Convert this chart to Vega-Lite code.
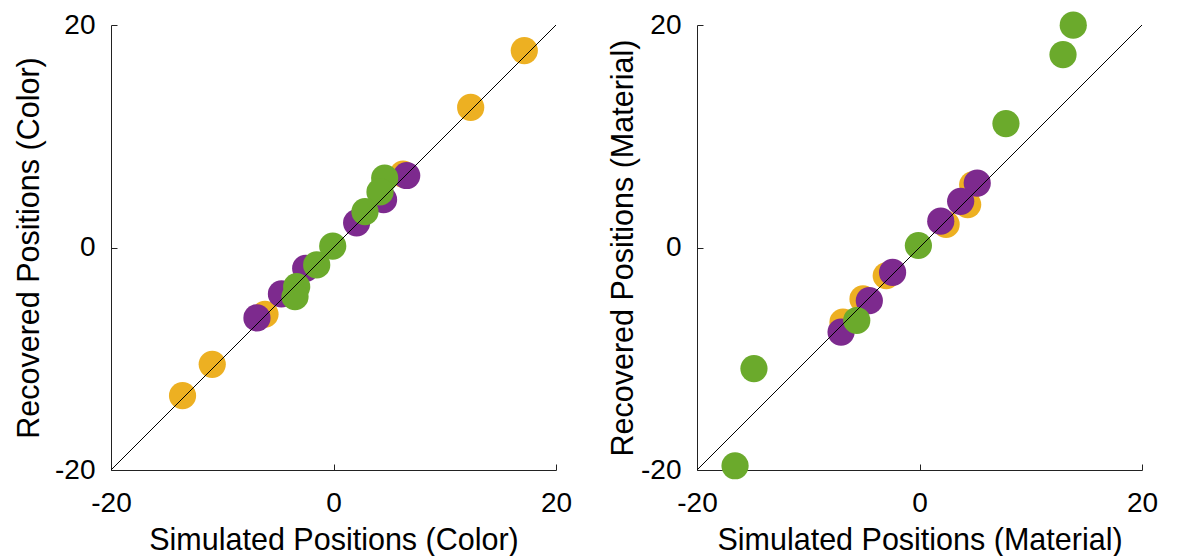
{
  "$schema": "https://vega.github.io/schema/vega-lite/v6.json",
  "autosize": {"type": "pad"},
  "padding": {"left": 14, "top": 11, "right": 5, "bottom": 0},
  "config": {
    "view": {"stroke": null},
    "font": "Liberation Sans",
    "concat": {"spacing": 36}
  },
  "datasets": {
    "color": [
      {"group": "orange", "sim": 17.15, "rec": 17.7},
      {"group": "orange", "sim": 12.33, "rec": 12.59},
      {"group": "orange", "sim": 6.25, "rec": 6.6},
      {"group": "orange", "sim": -6.16, "rec": -6.0},
      {"group": "orange", "sim": -10.9, "rec": -10.5},
      {"group": "orange", "sim": -13.57, "rec": -13.32},
      {"group": "purple", "sim": 6.58, "rec": 6.47},
      {"group": "purple", "sim": 4.5, "rec": 4.3},
      {"group": "purple", "sim": 2.08, "rec": 2.22},
      {"group": "purple", "sim": -2.5, "rec": -1.87},
      {"group": "purple", "sim": -4.68, "rec": -4.17},
      {"group": "purple", "sim": -6.88, "rec": -6.33},
      {"group": "green", "sim": 4.6, "rec": 6.24},
      {"group": "green", "sim": 4.18, "rec": 5.0},
      {"group": "green", "sim": 2.83, "rec": 3.22},
      {"group": "green", "sim": -0.07, "rec": 0.13},
      {"group": "green", "sim": -1.51, "rec": -1.57},
      {"group": "green", "sim": -3.31, "rec": -3.52},
      {"group": "green", "sim": -3.46, "rec": -4.42}
    ],
    "material": [
      {"group": "orange", "sim": 4.78, "rec": 5.64},
      {"group": "orange", "sim": 4.33, "rec": 3.86},
      {"group": "orange", "sim": 2.39, "rec": 2.07},
      {"group": "orange", "sim": -2.99, "rec": -2.54},
      {"group": "orange", "sim": -5.08, "rec": -4.62},
      {"group": "orange", "sim": -6.88, "rec": -6.7},
      {"group": "purple", "sim": 5.19, "rec": 5.79},
      {"group": "purple", "sim": 3.7, "rec": 4.15},
      {"group": "purple", "sim": 1.91, "rec": 2.37},
      {"group": "purple", "sim": -2.42, "rec": -2.24},
      {"group": "purple", "sim": -4.51, "rec": -4.78},
      {"group": "purple", "sim": -7.05, "rec": -7.6},
      {"group": "green", "sim": 13.82, "rec": 19.98},
      {"group": "green", "sim": 12.9, "rec": 17.33},
      {"group": "green", "sim": 7.77, "rec": 11.14},
      {"group": "green", "sim": -0.1, "rec": 0.18},
      {"group": "green", "sim": -5.64, "rec": -6.56},
      {"group": "green", "sim": -14.88, "rec": -10.88},
      {"group": "green", "sim": -16.58, "rec": -19.62}
    ],
    "diag": [{"sim": -20, "rec": -20, "sim2": 20, "rec2": 20}]
  },
  "hconcat": [
    {
      "width": 445,
      "height": 445,
      "encoding": {
        "x": {"field": "sim", "type": "quantitative", "scale": {"domain": [-20, 20], "nice": false, "zero": false},
          "axis": {"title": "Simulated Positions (Color)", "values": [-20, 0, 20], "labelExpr": "'' + datum.value", "grid": false, "domainColor": "#222222", "tickColor": "#222222", "tickSize": -6, "labelColor": "#000000", "titleColor": "#000000", "labelFontSize": 28, "titleFontSize": 30.5, "titleFontWeight": "normal", "labelFont": "Liberation Sans", "titleFont": "Liberation Sans", "labelFlush": false, "labelOverlap": false, "labelPadding": 25, "titlePadding": 8}},
        "y": {"field": "rec", "type": "quantitative", "scale": {"domain": [-20, 20], "nice": false, "zero": false},
          "axis": {"title": "Recovered Positions (Color)", "values": [-20, 0, 20], "labelExpr": "'' + datum.value", "grid": false, "domainColor": "#222222", "tickColor": "#222222", "tickSize": -6, "labelColor": "#000000", "titleColor": "#000000", "labelFontSize": 28, "titleFontSize": 30.5, "titleFontWeight": "normal", "labelFont": "Liberation Sans", "titleFont": "Liberation Sans", "labelFlush": false, "labelOverlap": false, "labelPadding": 22, "titlePadding": 10}}
      },
      "layer": [
        {
          "data": {"name": "color"},
          "mark": {"type": "circle", "opacity": 1, "size": 740},
          "encoding": {
            "color": {"field": "group", "type": "nominal", "scale": {"domain": ["orange", "purple", "green"], "range": ["#EDB022", "#7D2A8E", "#6BAA2C"]}, "legend": null}
          }
        },
        {
          "data": {"name": "diag"},
          "mark": {"type": "rule", "color": "#000000", "strokeWidth": 1},
          "encoding": {"x2": {"field": "sim2"}, "y2": {"field": "rec2"}}
        }
      ]
    },
    {
      "width": 445,
      "height": 445,
      "encoding": {
        "x": {"field": "sim", "type": "quantitative", "scale": {"domain": [-20, 20], "nice": false, "zero": false},
          "axis": {"title": "Simulated Positions (Material)", "values": [-20, 0, 20], "labelExpr": "'' + datum.value", "grid": false, "domainColor": "#222222", "tickColor": "#222222", "tickSize": -6, "labelColor": "#000000", "titleColor": "#000000", "labelFontSize": 28, "titleFontSize": 30.5, "titleFontWeight": "normal", "labelFont": "Liberation Sans", "titleFont": "Liberation Sans", "labelFlush": false, "labelOverlap": false, "labelPadding": 25, "titlePadding": 8}},
        "y": {"field": "rec", "type": "quantitative", "scale": {"domain": [-20, 20], "nice": false, "zero": false},
          "axis": {"title": "Recovered Positions (Material)", "values": [-20, 0, 20], "labelExpr": "'' + datum.value", "grid": false, "domainColor": "#222222", "tickColor": "#222222", "tickSize": -6, "labelColor": "#000000", "titleColor": "#000000", "labelFontSize": 28, "titleFontSize": 30.5, "titleFontWeight": "normal", "labelFont": "Liberation Sans", "titleFont": "Liberation Sans", "labelFlush": false, "labelOverlap": false, "labelPadding": 22, "titlePadding": 2}}
      },
      "layer": [
        {
          "data": {"name": "material"},
          "mark": {"type": "circle", "opacity": 1, "size": 740},
          "encoding": {
            "color": {"field": "group", "type": "nominal", "scale": {"domain": ["orange", "purple", "green"], "range": ["#EDB022", "#7D2A8E", "#6BAA2C"]}, "legend": null}
          }
        },
        {
          "data": {"name": "diag"},
          "mark": {"type": "rule", "color": "#000000", "strokeWidth": 1},
          "encoding": {"x2": {"field": "sim2"}, "y2": {"field": "rec2"}}
        }
      ]
    }
  ]
}
